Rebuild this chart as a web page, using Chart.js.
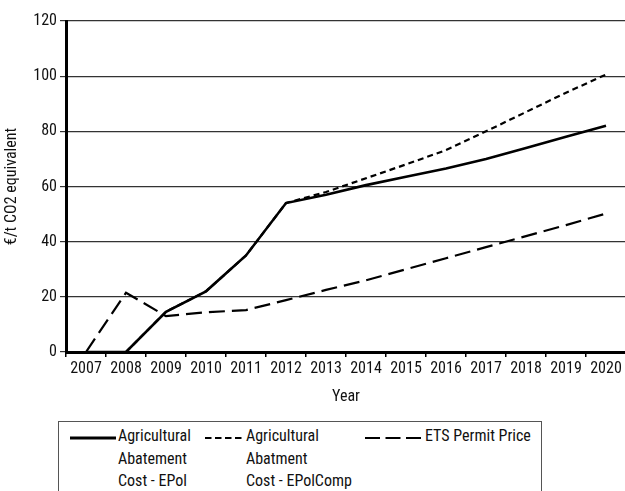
<!DOCTYPE html>
<html>
<head>
<meta charset="utf-8">
<script src="https://cdn.jsdelivr.net/npm/chart.js@4.4.1/dist/chart.umd.min.js"></script>
<style>
  html, body { margin:0; padding:0; width:625px; height:491px; overflow:hidden; background:#fff; }
  #wrap { position:relative; width:625px; height:491px; overflow:hidden; }
  #c { position:absolute; left:0; top:0; }
  .ff { font-family:'Roboto Condensed','DejaVu Sans Condensed',sans-serif; }
  #legend { position:absolute; left:58px; top:421px; width:484px; height:90px; border:1.5px solid #555; box-sizing:border-box; }
  .lt { position:absolute; font-size:16px; line-height:22.5px; color:#111; white-space:nowrap; }
  .ls { position:absolute; }
</style>
</head>
<body>
<div id="wrap">
<canvas id="c" width="627" height="410" style="width:627px;height:410px"></canvas>
<div id="legend" class="ff">
  <svg class="ls" style="left:11px;top:13px" width="48" height="6"><line x1="0" y1="3" x2="46" y2="3" stroke="#000" stroke-width="3"/></svg>
  <div class="lt" style="left:59px;top:3px">Agricultural<br>Abatement<br>Cost - EPol</div>
  <svg class="ls" style="left:146px;top:13px" width="40" height="6"><line x1="0" y1="3" x2="38" y2="3" stroke="#000" stroke-width="2" stroke-dasharray="6.5,3.5"/></svg>
  <div class="lt" style="left:187px;top:3px">Agricultural<br>Abatment<br>Cost - EPolComp</div>
  <svg class="ls" style="left:306px;top:13px" width="58" height="6"><line x1="0" y1="3" x2="56" y2="3" stroke="#000" stroke-width="2" stroke-dasharray="15,5.5"/></svg>
  <div class="lt" style="left:366px;top:3px">ETS Permit Price</div>
</div>
</div>
<script>
const years = ['2007','2008','2009','2010','2011','2012','2013','2014','2015','2016','2017','2018','2019','2020'];
const epol     = [0, 0, 14.6, 22, 35, 54, 57, 60.5, 63.5, 66.5, 70, 74, 78, 82];
const epolComp = [0, 0, 14.6, 22, 35, 54, 58, 63, 68, 73.2, 80, 87, 94, 100.6];
const etsPrice = [0, 21.5, 13, 14.4, 15.2, 18.8, 22.5, 26, 30, 34, 38, 42, 46, 50.2];
const yTicks = [0, 20, 40, 60, 80, 100, 120];

const FONT = "'Roboto Condensed','DejaVu Sans Condensed',sans-serif";
Chart.defaults.font.family = FONT;
Chart.defaults.font.size = 16;
Chart.defaults.color = '#111';

new Chart(document.getElementById('c'), {
  type: 'line',
  data: {
    labels: years,
    datasets: [
      { label: 'Agricultural Abatement Cost - EPol', data: epol, borderColor: '#000', borderWidth: 2.6, pointRadius: 0, tension: 0, fill: false, order: 1 },
      { label: 'Agricultural Abatment Cost - EPolComp', data: epolComp, borderColor: '#000', borderWidth: 2.2, borderDash: [6, 4], pointRadius: 0, tension: 0, fill: false, order: 2 },
      { label: 'ETS Permit Price', data: etsPrice, borderColor: '#000', borderWidth: 2.2, borderDash: [16, 7], pointRadius: 0, tension: 0, fill: false, order: 3 }
    ]
  },
  options: {
    responsive: false,
    animation: false,
    layout: { padding: { left: 0, right: 1, top: 21, bottom: 0 } },
    plugins: { legend: { display: false }, tooltip: { enabled: false } },
    scales: {
      x: {
        type: 'category',
        offset: true,
        grid: { offset: true, drawOnChartArea: false, drawTicks: true, tickLength: 5, color: '#000', lineWidth: 1.5 },
        border: { display: true, color: '#000', width: 3 },
        ticks: { padding: 2, maxRotation: 0, autoSkip: false, color: '#111' },
        title: { display: true, text: 'Year', color: '#111', padding: { top: 4, bottom: 3 } },
        afterFit: s => { s.height = 58; }
      },
      y: {
        min: 0, max: 120,
        afterBuildTicks: s => { s.ticks = yTicks.map(v => ({ value: v })); },
        grid: { color: '#333', lineWidth: 1.2, tickLength: 6, drawTicks: true },
        border: { display: true, color: '#000', width: 3 },
        ticks: { padding: 3, color: '#111' },
        title: { display: true, text: '€/t CO2 equivalent', color: '#111', padding: { top: 2, bottom: 2 } },
        afterFit: s => { s.width = 66; }
      }
    }
  }
});
</script>
</body>
</html>
